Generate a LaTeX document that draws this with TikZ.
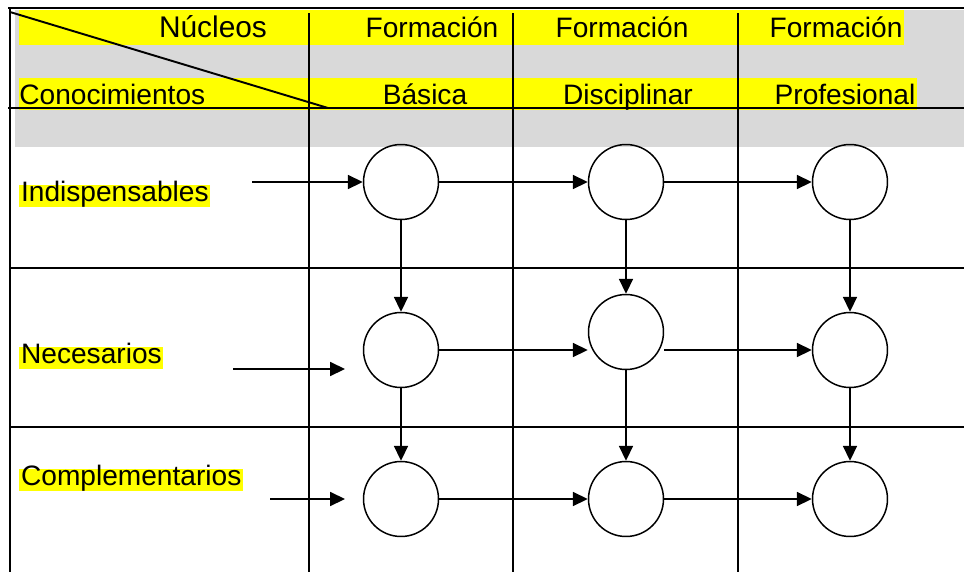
\documentclass[tikz,border=0pt]{standalone}
\usepackage{fontspec}
\setmainfont{Liberation Sans}
\usetikzlibrary{arrows.meta}
\definecolor{cellgrey}{HTML}{D9D9D9}
\definecolor{hiyellow}{HTML}{FFFF00}
\tikzset{
  knot/.style={draw,circle,minimum size=1.5cm,inner sep=0pt,line width=0.85pt},
  flow/.style={-{Triangle[length=8.5pt,width=8pt]},line width=0.9pt},
  rule/.style={line width=1.1pt},
  head/.style={font=\fontsize{16}{19}\selectfont,anchor=base,inner sep=0pt},
  rowlabel/.style={font=\fontsize{16}{19}\selectfont,fill=hiyellow,anchor=west,
    inner xsep=1pt,inner ysep=0.5pt,text height=0.9em,text depth=0.22em}
}
\begin{document}
\begin{tikzpicture}[x=0.02cm,y=-0.02cm]
\useasboundingbox (0,0) rectangle (964,572) ;

%header shading
\fill [cellgrey] (15,10) rectangle (964,147) ;
\fill [hiyellow] (19,10) rectangle (904,45) ;
\fill [hiyellow] (19,78) rectangle (917,110) ;

%table lines
\draw [line width=1.7pt] (8,8) -- (964,8) ;
\draw [rule] (10,8) -- (10,572) ;
\draw [rule] (8,108) -- (964,108) ;
\draw [rule] (10,268) -- (964,268) ;
\draw [rule] (10,427) -- (964,427) ;
\draw [rule] (309,13) -- (309,572) ;
\draw [rule] (513,13) -- (513,572) ;
\draw [rule] (738,13) -- (738,572) ;
\draw [rule] (10,12) -- (328,108) ;

%header labels
\node [head,font=\fontsize{17}{20}\selectfont] (nucleos) at (213,37) {Núcleos} ;
\node [head] (formb) at (432,37) {Formación} ;
\node [head] (formd) at (622,37) {Formación} ;
\node [head] (formp) at (836,37) {Formación} ;
\node [head,anchor=base west] (conoc) at (19,104) {Conocimientos} ;
\node [head] (basica) at (425,104) {Básica} ;
\node [head] (discip) at (628,104) {Disciplinar} ;
\node [head] (profes) at (845,104) {Profesional} ;

%row labels
\node [rowlabel] (indis) at (19,196) {Indispensables} ;
\node [rowlabel] (neces) at (19,358) {Necesarios} ;
\node [rowlabel] (compl) at (19,480) {Complementarios} ;

%circles
\node [knot] (b1) at (401,182) {} ;
\node [knot] (d1) at (626,182) {} ;
\node [knot] (p1) at (850,182) {} ;
\node [knot] (b2) at (401,350) {} ;
\node [knot] (d2) at (626,332) {} ;
\node [knot] (p2) at (850,350) {} ;
\node [knot] (b3) at (401,499) {} ;
\node [knot] (d3) at (626,499) {} ;
\node [knot] (p3) at (850,499) {} ;

%loose arrow ends
\coordinate (in1) at (252,182) ;
\coordinate (in2) at (233,369) ;
\coordinate (in2e) at (345,369) ;
\coordinate (in3) at (270,499) ;
\coordinate (in3e) at (345,499) ;

%across
\draw [flow] (in1) -- (b1) ;
\draw [flow] (b1) -- (d1) ;
\draw [flow] (d1) -- (p1) ;
\draw [flow] (in2) -- (in2e) ;
\draw [flow] (b2.east) -- (d2.west |- b2.east) ;
\draw [flow] (d2.east |- p2.west) -- (p2.west) ;
\draw [flow] (in3) -- (in3e) ;
\draw [flow] (b3) -- (d3) ;
\draw [flow] (d3) -- (p3) ;

%down
\draw [flow] (b1) -- (b2) ;
\draw [flow] (d1) -- (d2) ;
\draw [flow] (p1) -- (p2) ;
\draw [flow] (b2) -- (b3) ;
\draw [flow] (d2) -- (d3) ;
\draw [flow] (p2) -- (p3) ;

\end{tikzpicture}
\end{document}
